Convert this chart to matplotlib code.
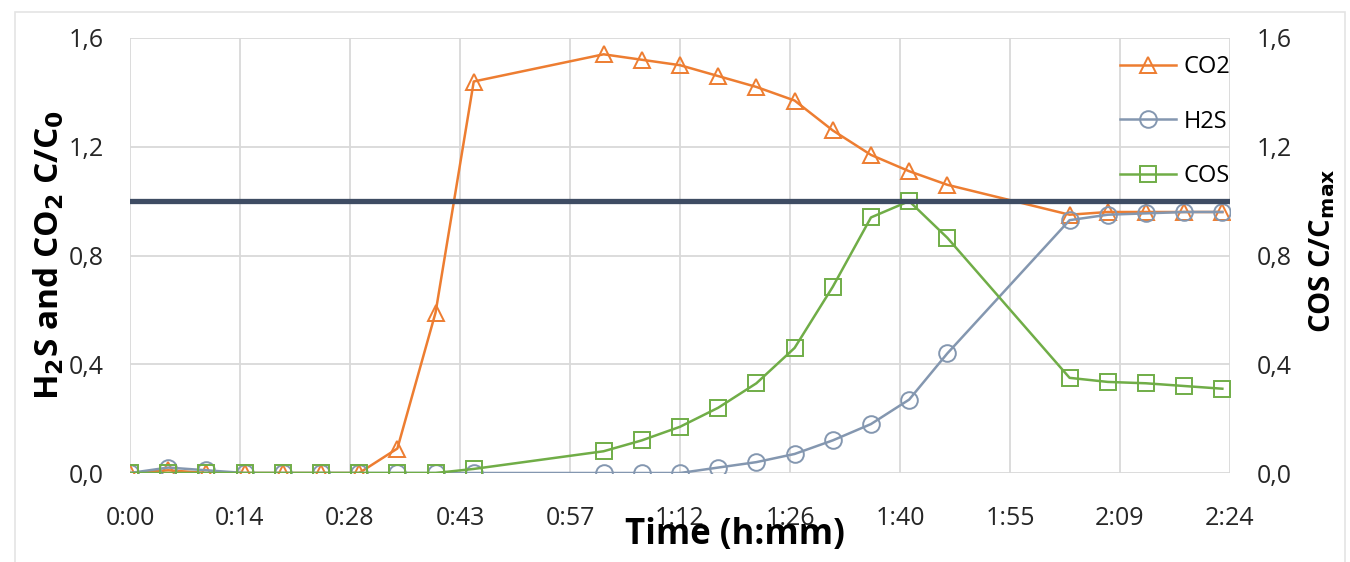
import matplotlib
matplotlib.use('Agg')
import matplotlib.pyplot as plt
from matplotlib.patches import Rectangle

plt.rcParams['font.family'] = ['Open Sans', 'DejaVu Sans']

# time of each sample, minutes
t = [0, 5, 10, 15, 20, 25, 30, 35, 40, 45,
     62, 67, 72, 77, 82, 87, 92, 97, 102, 107,
     123, 128, 133, 138, 143]

# C/C0, left axis
co2 = [0.0, 0.01, 0.0, 0.0, 0.0, 0.0, 0.0, 0.09, 0.59, 1.44,
       1.54, 1.52, 1.50, 1.46, 1.42, 1.37, 1.26, 1.17, 1.11, 1.06,
       0.95, 0.96, 0.96, 0.96, 0.96]
h2s = [0.0, 0.02, 0.01, 0.0, 0.0, 0.0, 0.0, 0.0, 0.0, 0.0,
       0.0, 0.0, 0.0, 0.02, 0.04, 0.07, 0.12, 0.18, 0.27, 0.44,
       0.93, 0.95, 0.955, 0.96, 0.96]
# C/Cmax, right axis
cos = [0.0, 0.0, 0.0, 0.0, 0.0, 0.0, 0.0, 0.0, 0.0, 0.015,
       0.08, 0.12, 0.17, 0.24, 0.33, 0.46, 0.685, 0.94, 1.0, 0.865,
       0.35, 0.335, 0.33, 0.32, 0.31]

# excel time axis: one grid step = 0.01 day = 14.4 min
xticks = [14.4 * i for i in range(11)]
xlabels = ['%d:%02d' % (int(m) // 60, int(m) % 60) for m in xticks]
yticks = [0.0, 0.4, 0.8, 1.2, 1.6]
ylabels = [('%.1f' % v).replace('.', ',') for v in yticks]

c_co2 = '#ED7D31'
c_h2s = '#8497B0'
c_cos = '#70AD47'
c_ref = '#3E4C63'

fig = plt.figure(figsize=(13.5, 5.62), dpi=100)
fig.patches.append(Rectangle((15/1350, -0.1), 1330/1350, 1 - 12/562 + 0.1,
                             transform=fig.transFigure, fill=False,
                             edgecolor='#e4e4e4', lw=1.2))

ax = fig.add_axes([130/1350, 1 - 473/562, 1100/1350, 435/562])
ax2 = ax.twinx()

mk = dict(ms=12, mfc='none', mew=1.4, lw=1.8)
l1, = ax.plot(t, co2, marker='^', color=c_co2, label='CO2', **mk)
l2, = ax.plot(t, h2s, marker='o', color=c_h2s, label='H2S', **mk)
l3, = ax2.plot(t, cos, marker='s', color=c_cos, label='COS', **mk)
ax2.axhline(1.0, color=c_ref, lw=3.8, zorder=5)

for a in (ax, ax2):
    a.set_xlim(0, 144)
    a.set_ylim(0, 1.6)
    a.set_yticks(yticks)
    a.set_yticklabels(ylabels)
    a.tick_params(length=0, labelsize=18, labelcolor='#262626')
    for s in a.spines.values():
        s.set_visible(False)
ax.tick_params(axis='y', pad=19)
ax2.tick_params(axis='y', pad=19)
ax.tick_params(axis='x', pad=24)
ax.set_xticks(xticks)
ax.set_xticklabels(xlabels)
ax.grid(True, color='#d9d9d9', lw=1.3)
ax.set_axisbelow(True)

ax.set_ylabel('H$_\\mathbf{2}$S and CO$_\\mathbf{2}$ C/C$_\\mathbf{0}$',
              fontsize=24, fontweight='bold')
ax.yaxis.label.set_va('center')
ax.yaxis.set_label_coords(-0.0736, 0.5)
ax2.set_ylabel('COS C/C$_\\mathbf{max}$', fontsize=21, fontweight='bold')
ax2.yaxis.label.set_va('center')
ax2.yaxis.set_label_coords(1.0836, 0.51)
# the reference puts the title over the middle tick labels
ax.set_xlabel('Time (h:mm)', fontsize=25, fontweight='bold')
ax.xaxis.label.set_va('center')
ax.xaxis.set_label_coords(0.55, -0.1425)

ax2.legend(handles=[l1, l2, l3], loc='upper right',
           bbox_to_anchor=(1.0, 0.96), frameon=False, fontsize=17,
           handlelength=2.4, handletextpad=0.3, labelspacing=1.28,
           borderaxespad=0, borderpad=0)

fig.savefig('out.png', dpi=100)
